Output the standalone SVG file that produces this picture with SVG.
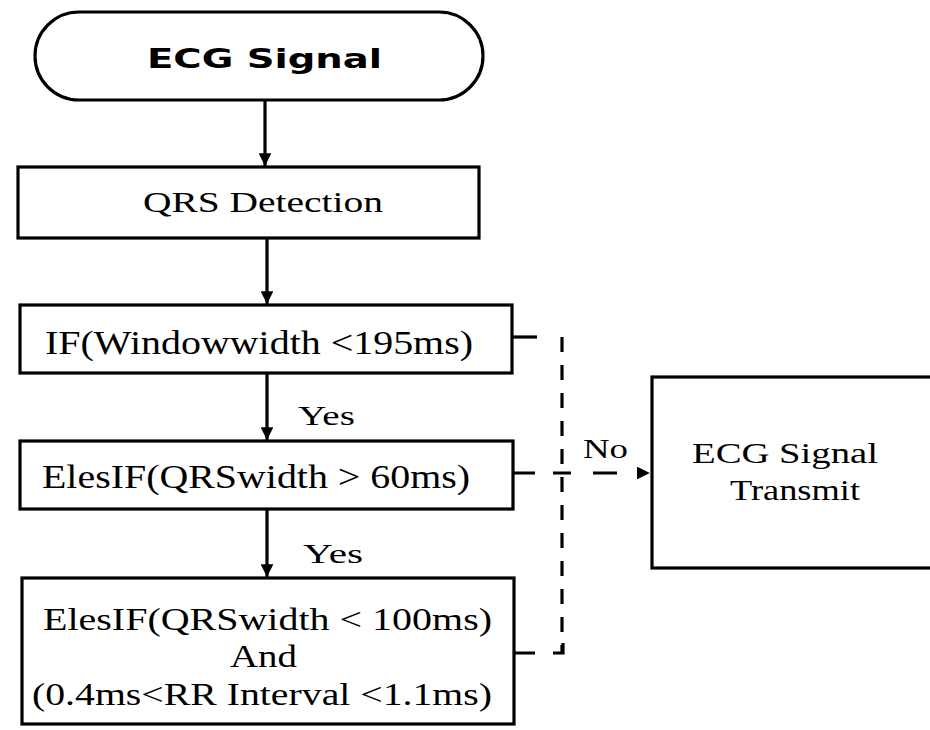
<svg xmlns="http://www.w3.org/2000/svg" width="930" height="730" viewBox="0 0 930 730">
<style>
  .box { fill: #ffffff; stroke: #000000; stroke-width: 3.2; }
  .t { font-family: "Liberation Serif", "Times New Roman", serif; fill: #000000; }
  .tb { font-family: "DejaVu Sans", "Liberation Sans", sans-serif; font-weight: bold; fill: #000000; }
  .line { fill: none; stroke: #000000; stroke-width: 3.2; }
  .dash { fill: none; stroke: #000000; stroke-width: 3.2; stroke-dasharray: 15 13; }
</style>
<defs>
  <marker id="arrow" viewBox="0 0 10 10" refX="10" refY="5" markerWidth="4" markerHeight="4" markerUnits="strokeWidth" orient="auto">
    <path d="M0,0 L10,5 L0,10 Z" fill="#000000"/>
  </marker>
  <marker id="arrowR" viewBox="0 0 10 10" refX="0" refY="5" markerWidth="4.5" markerHeight="4" markerUnits="strokeWidth" orient="auto">
    <path d="M0,0 L10,5 L0,10 Z" fill="#000000"/>
  </marker>
</defs>
<rect width="930" height="730" fill="#ffffff"/>

<g id="node-ecg-signal">
  <rect class="box" x="35" y="12" width="448" height="88" rx="44" ry="44"/>
  <text class="tb" x="147" y="68" font-size="26" textLength="235" lengthAdjust="spacingAndGlyphs">ECG Signal</text>
</g>

<g id="node-qrs-detection">
  <rect class="box" x="18" y="167" width="461" height="71"/>
  <text class="t" x="143" y="212" font-size="29" textLength="240" lengthAdjust="spacingAndGlyphs">QRS Detection</text>
</g>

<g id="node-if-windowwidth">
  <rect class="box" x="20" y="305" width="492" height="68"/>
  <text class="t" x="45" y="354" font-size="33" textLength="428" lengthAdjust="spacingAndGlyphs">IF(Windowwidth &lt;195ms)</text>
</g>

<g id="node-elseif-qrs60">
  <rect class="box" x="20" y="441" width="493" height="68"/>
  <text class="t" x="42" y="488" font-size="33" textLength="428" lengthAdjust="spacingAndGlyphs">ElesIF(QRSwidth &gt; 60ms)</text>
</g>

<g id="node-elseif-qrs100">
  <rect class="box" x="22" y="578" width="492" height="146"/>
  <text class="t" x="43" y="630" font-size="32" textLength="449" lengthAdjust="spacingAndGlyphs">ElesIF(QRSwidth &lt; 100ms)</text>
  <text class="t" x="230" y="667" font-size="32" textLength="67" lengthAdjust="spacingAndGlyphs">And</text>
  <text class="t" x="32" y="705" font-size="32" textLength="460" lengthAdjust="spacingAndGlyphs">(0.4ms&lt;RR Interval &lt;1.1ms)</text>
</g>

<g id="node-transmit">
  <rect class="box" x="652" y="377" width="285" height="191"/>
  <text class="t" x="692" y="463" font-size="29" textLength="186" lengthAdjust="spacingAndGlyphs">ECG Signal</text>
  <text class="t" x="730" y="500" font-size="29" textLength="130" lengthAdjust="spacingAndGlyphs">Transmit</text>
</g>

<g id="connectors">
  <path class="line" d="M265,100 V166" marker-end="url(#arrow)"/>
  <path class="line" d="M267,238 V304" marker-end="url(#arrow)"/>
  <path class="line" d="M267,373 V440" marker-end="url(#arrow)"/>
  <path class="line" d="M267,509 V577" marker-end="url(#arrow)"/>

  <path class="line" d="M512,337 H537"/>
  <path class="dash" d="M562,337 V653"/>
  <path class="line" d="M515,653 H535 M553,653 H563 V643"/>
  <path class="line" d="M513,473 H637" stroke-dasharray="22 18 18 22 24 20" marker-end="url(#arrowR)"/>

  <text class="t" x="583" y="458" font-size="28" textLength="45" lengthAdjust="spacingAndGlyphs">No</text>
  <text class="t" x="298" y="425" font-size="28" textLength="57" lengthAdjust="spacingAndGlyphs">Yes</text>
  <text class="t" x="303" y="563" font-size="28" textLength="60" lengthAdjust="spacingAndGlyphs">Yes</text>
</g>
</svg>
